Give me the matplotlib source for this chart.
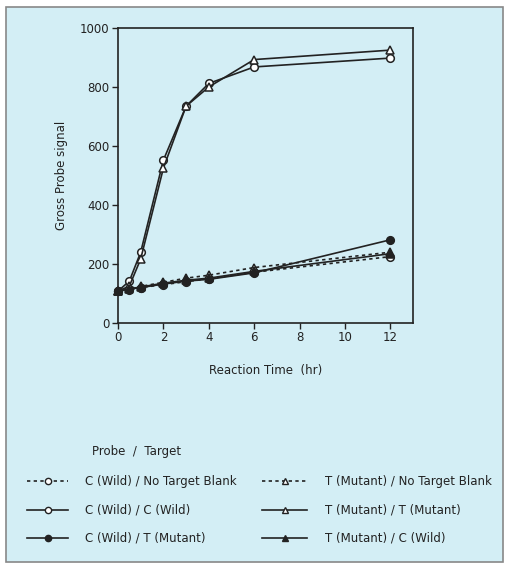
import matplotlib
matplotlib.use("Agg")
import matplotlib.pyplot as plt
from matplotlib.lines import Line2D
from matplotlib.patches import Rectangle

t = [0, 0.5, 1, 2, 3, 4, 6, 12]
c_blank = [108, 112, 120, 130, 140, 150, 172, 225]
c_c = [108, 142, 240, 552, 735, 812, 868, 898]
c_t = [108, 115, 120, 132, 142, 148, 170, 282]
t_blank = [108, 118, 124, 138, 152, 162, 188, 240]
t_t = [108, 125, 217, 525, 735, 800, 893, 925]
t_c = [108, 116, 122, 135, 145, 152, 175, 235]

labels = ["C (Wild) / No Target Blank", "C (Wild) / C (Wild)", "C (Wild) / T (Mutant)",
          "T (Mutant) / No Target Blank", "T (Mutant) / T (Mutant)", "T (Mutant) / C (Wild)"]
xticks = [0, 2, 4, 6, 8, 10, 12]
yticks = [0, 200, 400, 600, 800, 1000]

bg = "#d3eef5"
ink = "#222222"
W, H = 509, 566
fig = plt.figure(figsize=(W / 100, H / 100), dpi=100)
fig.patch.set_facecolor("white")
fig.patches.append(Rectangle((6 / W, 1 - 562 / H), (503 - 6) / W, (562 - 7) / H,
                             transform=fig.transFigure, facecolor=bg, edgecolor="#888888",
                             linewidth=1.2, zorder=-10))

ax = fig.add_axes([118 / W, 1 - 323 / H, (413 - 118) / W, (323 - 28) / H])
ax.set_zorder(5)
ax.set_facecolor(bg)
ax.set_xlim(0, 13)
ax.set_ylim(0, 1000)
ax.set_xticks(xticks)
ax.set_yticks(yticks)
ax.tick_params(direction="out", length=4, width=1, labelsize=8.5, pad=2, colors=ink)
for s in ax.spines.values():
    s.set_linewidth(1.2)
    s.set_color(ink)

series = [
    (c_blank, "o", "white", (0, (2, 2))),
    (c_c, "o", "white", "-"),
    (c_t, "o", ink, "-"),
    (t_blank, "^", "white", (0, (2, 2))),
    (t_t, "^", "white", "-"),
    (t_c, "^", ink, "-"),
]
for (vals, m, fc, ls), lab in zip(series, labels):
    ax.plot(t, vals, marker=m, markerfacecolor=fc, markeredgecolor=ink, color=ink,
            linestyle=ls, linewidth=1.2, markersize=5.5, markeredgewidth=1.1, clip_on=False)

ax.set_xlabel("Reaction Time  (hr)", fontsize=8.5, labelpad=14, color=ink)
ax.set_ylabel("Gross Probe signal", fontsize=8.5, labelpad=9, color=ink)

fig.text(92 / W, 1 - 451 / H, "Probe  /  Target", fontsize=8.5, va="center", color=ink)
rows_y = [481, 510, 538]
cols = [(27, 68, 85), (262, 307, 325)]
for i, ((vals, m, fc, ls), lab) in enumerate(zip(series, labels)):
    col = cols[i // 3]
    y = 1 - rows_y[i % 3] / H
    x0, x1, xt = col[0] / W, col[1] / W, col[2] / W
    fig.add_artist(Line2D([x0, x1], [y, y], transform=fig.transFigure, color=ink,
                          linestyle=ls, linewidth=1.2))
    fig.add_artist(Line2D([(x0 + x1) / 2], [y], transform=fig.transFigure, marker=m,
                          markerfacecolor=fc, markeredgecolor=ink, markersize=4.5,
                          markeredgewidth=1, linestyle="none"))
    fig.text(xt, y, lab, fontsize=8.5, va="center", color=ink)

fig.savefig("out.png", dpi=100, facecolor=fig.get_facecolor())
